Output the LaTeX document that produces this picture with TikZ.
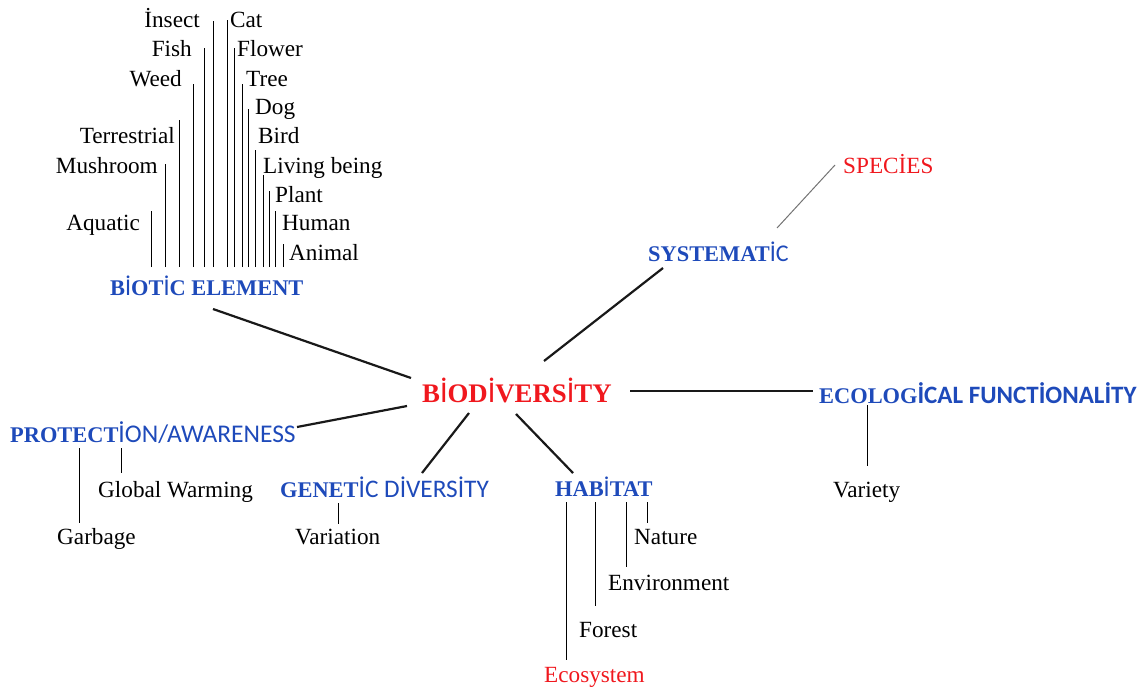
\documentclass[tikz,border=0pt]{standalone}
\usepackage{fontspec}
\setmainfont{Liberation Serif}
\newfontfamily\decfont{Liberation Serif}
\newfontfamily\sansfont{Carlito}
\definecolor{headblue}{RGB}{30,74,186}
\definecolor{hotred}{RGB}{240,24,30}
% dotted capital I set in the sans face
\newcommand\si[1]{{\sansfont\mdseries\fontsize{#1}{#1}\selectfont İ}}
\newcommand\sanspart[2]{{\sansfont\mdseries\fontsize{#1}{#1}\selectfont #2}}
\newcommand\sansbold[2]{{\sansfont\bfseries\fontsize{#1}{#1}\selectfont #2}}
\tikzset{
  word/.style={inner sep=0pt, font=\fontsize{23.2}{27}\selectfont},
  wordL/.style={word, anchor=base east},
  wordR/.style={word, anchor=base west},
  redword/.style={wordR, text=hotred},
  head/.style={inner sep=0pt, anchor=base west, text=headblue,
    font=\decfont\bfseries\fontsize{22.4}{26}\selectfont},
  core/.style={inner sep=0pt, anchor=base west, text=hotred,
    font=\decfont\bfseries\fontsize{26.8}{30}\selectfont},
  thinline/.style={line width=1pt, black},
  thickline/.style={line width=2.2pt, black!90},
  greyline/.style={line width=1pt, black!55},
}
\begin{document}
\begin{tikzpicture}[x=1pt, y=-1pt]
\useasboundingbox (0,0) rectangle (1142,691);

% central concept
\node[core] (bio) at (422,402) {B\si{30}OD\si{30}VERS\si{30}TY};

% main branches
\node[head] (biotic) at (110,295) {B\si{24}OT\si{24}C ELEMENT};
\node[head] (syst) at (648,261) {SYSTEMAT\sanspart{24}{İC}};
\node[head] (ecol) at (819,403) {ECOLOG\sansbold{25}{İCAL FUNCTİONALİTY}};
\node[head] (prot) at (10,442) {PROTECT\sanspart{25.5}{İON/AWARENESS}};
\node[head] (gene) at (280,497) {GENET\sanspart{25.3}{İC DİVERSİTY}};
\node[head] (habi) at (555,496) {HAB\si{24}TAT};

% spokes from the centre
\coordinate (s1a) at (213,309); \coordinate (s1b) at (411,378);
\coordinate (s2a) at (544,361); \coordinate (s2b) at (663,268);
\coordinate (s3a) at (630,391); \coordinate (s3b) at (813,391);
\coordinate (s4a) at (297,427); \coordinate (s4b) at (407,406);
\coordinate (s5a) at (422,473); \coordinate (s5b) at (469,413);
\coordinate (s6a) at (516,414); \coordinate (s6b) at (573,473);
\draw[thickline] (s1a) -- (s1b);
\draw[thickline] (s2a) -- (s2b);
\draw[thickline] (s3a) -- (s3b);
\draw[thickline] (s4a) -- (s4b);
\draw[thickline] (s5a) -- (s5b);
\draw[thickline] (s6a) -- (s6b);

% biotic element members
\node[wordL] (insect) at (200,27) {İnsect};
\node[wordL] (fish) at (192,56) {Fish};
\node[wordL] (weed) at (182,86) {Weed};
\node[wordL] (terr) at (175,143) {Terrestrial};
\node[wordL] (mush) at (158,173) {Mushroom};
\node[wordL] (aqua) at (140,230) {Aquatic};
\node[wordR] (cat) at (230,27) {Cat};
\node[wordR] (flower) at (237,56) {Flower};
\node[wordR] (tree) at (246,86) {Tree};
\node[wordR] (dog) at (255,114) {Dog};
\node[wordR] (bird) at (258,143) {Bird};
\node[wordR] (living) at (263,173) {Living being};
\node[wordR] (plant) at (275,202) {Plant};
\node[wordR] (human) at (282,230) {Human};
\node[wordR] (animal) at (289,260) {Animal};
\foreach \n/\x/\t in {aqua/151/211, mush/165/164, terr/179/120, weed/193/84,
    fish/204/48, insect/213/21, cat/227/20, flower/234/48, tree/242/84,
    dog/248/109, bird/255/150, living/263/175, plant/269/191, human/275/211,
    animal/283/244}{
  \coordinate (\n-top) at (\x,\t);
  \coordinate (\n-bot) at (\x,267);
  \draw[thinline] (\n-bot) -- (\n-top);
}

% systematic
\node[redword] (spec) at (843,173) {SPECİES};
\coordinate (sp1) at (777,228); \coordinate (sp2) at (835,165);
\draw[greyline] (sp1) -- (sp2);

% ecological functionality
\node[wordR] (variety) at (833,497) {Variety};
\coordinate (v1) at (867,405); \coordinate (v2) at (867,466);
\draw[thinline] (v1) -- (v2);

% protection / awareness
\node[wordR] (garb) at (57,544) {Garbage};
\node[wordR] (glob) at (98,497) {Global Warming};
\coordinate (g1) at (79,448); \coordinate (g2) at (79,523);
\coordinate (w1) at (121,448); \coordinate (w2) at (121,473);
\draw[thinline] (g1) -- (g2);
\draw[thinline] (w1) -- (w2);

% genetic diversity
\node[wordR] (vari) at (295,544) {Variation};
\coordinate (d1) at (338,503); \coordinate (d2) at (338,524);
\draw[thinline] (d1) -- (d2);

% habitat
\node[wordR] (nat) at (634,544) {Nature};
\node[wordR] (env) at (608,590) {Environment};
\node[wordR] (forest) at (579,637) {Forest};
\node[redword] (eco) at (544,682) {Ecosystem};
\coordinate (h1a) at (566,502); \coordinate (h1b) at (566,660);
\coordinate (h2a) at (595,502); \coordinate (h2b) at (595,606);
\coordinate (h3a) at (626,502); \coordinate (h3b) at (626,567);
\coordinate (h4a) at (647,502); \coordinate (h4b) at (647,523);
\draw[thinline] (h1a) -- (h1b);
\draw[thinline] (h2a) -- (h2b);
\draw[thinline] (h3a) -- (h3b);
\draw[thinline] (h4a) -- (h4b);
\end{tikzpicture}
\end{document}
